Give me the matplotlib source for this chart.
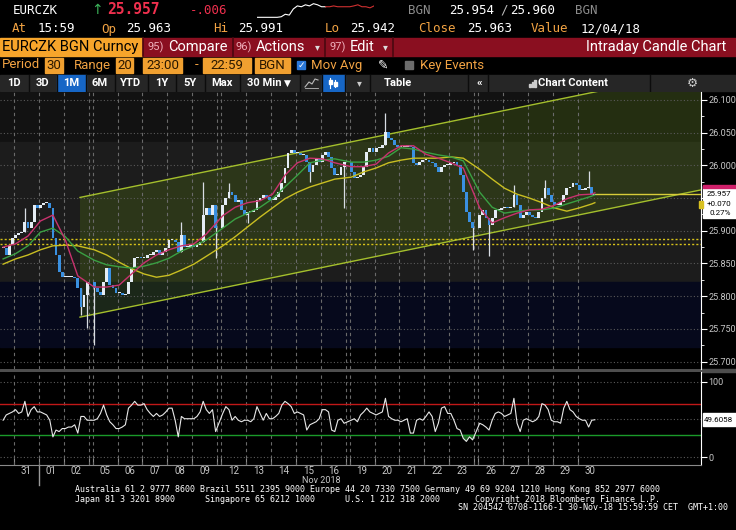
"""Bloomberg style intraday candle chart, EURCZK, 30-Oct to 30-Nov 2018."""

import matplotlib
matplotlib.use("Agg")
import matplotlib.pyplot as plt
from matplotlib.patches import Rectangle, Polygon
import numpy as np
import pandas as pd

plt.rcParams["font.family"] = ["Roboto", "DejaVu Sans"]

W, H = 736, 530

# ---------------- data ----------------
trade_dates = pd.to_datetime([
    "2018-10-31", "2018-11-01", "2018-11-02", "2018-11-05", "2018-11-06",
    "2018-11-07", "2018-11-08", "2018-11-09", "2018-11-12", "2018-11-13",
    "2018-11-14", "2018-11-15", "2018-11-16", "2018-11-19", "2018-11-20",
    "2018-11-21", "2018-11-22", "2018-11-23", "2018-11-26", "2018-11-27",
    "2018-11-28", "2018-11-29", "2018-11-30",
])
bars_per_day = 8   # 3h candles, session 23:00 - 22:59
lead_bars = 4      # last bars of 30-Oct at the left edge

closes = [
    25.874, 25.863, 25.878, 25.889,                                  # 30 Oct
    25.894, 25.897, 25.898, 25.913, 25.904, 25.913, 25.939, 25.935,  # 31
    25.939, 25.943, 25.943, 25.935, 25.889, 25.863, 25.837, 25.829,  # 01
    25.829, 25.829, 25.829, 25.828, 25.813, 25.784, 25.802, 25.822,  # 02
    25.813, 25.806, 25.802, 25.822, 25.843, 25.817, 25.813, 25.805,  # 05
    25.805, 25.802, 25.803, 25.822, 25.843, 25.858, 25.860, 25.858,  # 06
    25.858, 25.863, 25.863, 25.868, 25.871, 25.863, 25.868, 25.874,  # 07
    25.886, 25.886, 25.883, 25.868, 25.894, 25.875, 25.875, 25.878,  # 08
    25.875, 25.878, 25.883, 25.924, 25.935, 25.924, 25.939, 25.904,  # 09
    25.939, 25.950, 25.959, 25.955, 25.944, 25.947, 25.932, 25.924,  # 12
    25.929, 25.929, 25.932, 25.947, 25.950, 25.955, 25.952, 25.947,  # 13
    25.947, 25.952, 25.959, 25.973, 25.996, 26.019, 26.024, 26.019,  # 14
    26.019, 26.016, 26.016, 26.005, 25.990, 26.001, 26.011, 26.005,  # 15
    26.016, 26.020, 26.013, 25.996, 25.985, 25.985, 25.998, 26.005,  # 16
    25.990, 25.981, 25.982, 25.985, 25.998, 26.020, 26.027, 26.020,  # 19
    26.027, 26.027, 26.031, 26.051, 26.042, 26.039, 26.031, 26.028,  # 20
    26.028, 26.028, 26.031, 26.028, 26.004, 26.001, 26.005, 26.008,  # 21
    26.008, 26.005, 26.004, 25.998, 25.990, 25.998, 26.001, 26.001,  # 22
    26.004, 26.005, 26.001, 25.985, 25.959, 25.929, 25.913, 25.904,  # 23
    25.924, 25.932, 25.920, 25.909, 25.920, 25.932, 25.932, 25.935,  # 26
    25.936, 25.935, 25.936, 25.955, 25.939, 25.920, 25.924, 25.929,  # 27
    25.924, 25.921, 25.920, 25.929, 25.950, 25.965, 25.955, 25.944,  # 28
    25.939, 25.939, 25.944, 25.955, 25.965, 25.967, 25.973, 25.970,  # 29
    25.962, 25.962, 25.965, 25.967, 25.955, 25.957,                  # 30
]
# long wicks: (bar index, extreme price)
spikes = [(7, 25.935), (25, 25.771), (27, 25.751), (28, 25.725), (56, 25.913),
          (63, 25.975), (67, 25.858), (70, 25.973), (76, 25.912), (96, 25.975),
          (107, 25.935), (119, 26.080), (147, 25.871), (151, 25.862),
          (159, 25.970), (169, 25.978), (183, 25.991)]

# moving averages, read every 4th bar (plus the last one)
ma_step = 4
ma_fast = [25.875, 25.880, 25.892, 25.915, 25.924, 25.886, 25.831, 25.814,
           25.814, 25.817, 25.834, 25.851, 25.863, 25.871, 25.877, 25.880,
           25.895, 25.923, 25.936, 25.943, 25.946, 25.956, 25.985, 26.004,
           26.011, 26.010, 26.004, 25.998, 25.998, 26.002, 26.019, 26.030,
           26.030, 26.017, 26.011, 26.004, 25.996, 25.935, 25.912, 25.920,
           25.927, 25.932, 25.933, 25.939, 25.949, 25.955, 25.956, 25.958]
ma_mid = [25.857, 25.865, 25.877, 25.898, 25.904, 25.891, 25.869, 25.855,
          25.848, 25.845, 25.843, 25.846, 25.851, 25.858, 25.869, 25.877,
          25.886, 25.904, 25.918, 25.927, 25.936, 25.949, 25.967, 25.985,
          26.004, 26.008, 26.010, 26.005, 26.005, 26.008, 26.014, 26.027,
          26.025, 26.020, 26.016, 26.013, 26.007, 25.959, 25.936, 25.927,
          25.930, 25.932, 25.932, 25.935, 25.941, 25.947, 25.953, 25.955]
ma_slow = [25.849, 25.857, 25.863, 25.871, 25.877, 25.878, 25.877, 25.871,
           25.863, 25.852, 25.842, 25.834, 25.829, 25.832, 25.840, 25.849,
           25.861, 25.877, 25.891, 25.906, 25.921, 25.935, 25.949, 25.959,
           25.967, 25.973, 25.979, 25.982, 25.990, 25.996, 26.004, 26.008,
           26.011, 26.011, 26.011, 26.013, 26.011, 25.994, 25.979, 25.965,
           25.956, 25.950, 25.943, 25.935, 25.930, 25.935, 25.941, 25.943]

rsi = [
    49, 56, 58, 60,
    63, 58, 60, 74, 54, 63, 67, 60,
    60, 58, 56, 49, 27, 36, 34, 38,
    38, 40, 40, 43, 32, 54, 54, 49,
    49, 51, 58, 69, 56, 47, 43, 38,
    38, 40, 43, 65, 69, 74, 69, 69,
    71, 63, 58, 54, 58, 54, 56, 60,
    65, 65, 49, 27, 54, 51, 51, 51,
    51, 54, 60, 74, 63, 58, 63, 34,
    58, 67, 63, 49, 54, 49, 47, 49,
    49, 47, 51, 67, 58, 49, 58, 51,
    51, 54, 58, 69, 74, 71, 67, 58,
    60, 58, 56, 36, 43, 45, 47, 51,
    63, 63, 60, 36, 34, 49, 51, 45,
    49, 51, 47, 56, 60, 65, 60, 58,
    56, 58, 60, 78, 54, 51, 49, 49,
    47, 49, 51, 32, 32, 49, 51, 49,
    54, 60, 54, 34, 45, 65, 67, 58,
    58, 49, 38, 36, 25, 21, 27, 23,
    45, 43, 40, 36, 49, 58, 60, 58,
    54, 56, 58, 78, 45, 34, 49, 51,
    49, 47, 49, 54, 71, 69, 63, 49,
    47, 47, 45, 65, 74, 63, 60, 54,
    51, 49, 49, 40, 49, 49.6058,
]
rsi_hi, rsi_lo = 70, 30

last_px, last_chg, last_pct = 25.957, "+0.070", "0.27%"
ref_levels = [25.8875, 25.8798]
# trend channel: start (day units), lower / upper price there, slope per day
chan_x0, chan_lo0, chan_hi0, chan_slope = 2.65, 25.768, 25.951, 0.0078

spark = [25.942, 25.942, 25.942, 25.942, 25.942, 25.942, 25.944, 25.953,
         25.950, 25.972, 25.983, 25.980, 25.987, 25.983, 25.991, 25.987,
         25.980, 25.980, 25.980, 25.983, 25.980, 25.980, 25.980, 25.980,
         25.983, 25.987, 25.980, 25.980, 25.976, 25.983]
spark_split = 17

# ---------------- x positions ----------------
n = len(closes)
gap = 0.16
wk = np.r_[0, np.diff(trade_dates.values).astype("timedelta64[D]").astype(int) > 1]
day_pos = np.arange(len(trade_dates)) + gap * np.cumsum(wk)
bar_x = np.empty(n)
for j in range(n):
    if j < lead_bars:
        bar_x[j] = -1 + (bars_per_day - lead_bars + j + 0.5) / bars_per_day
    else:
        d, k = divmod(j - lead_bars, bars_per_day)
        bar_x[j] = day_pos[d] + (k + 0.5) / bars_per_day
ma_idx = list(range(0, n, ma_step))
if ma_idx[-1] != n - 1:
    ma_idx.append(n - 1)
ma_x = bar_x[ma_idx]
XL = (-0.562, 27.59)
boundaries = list(day_pos) + [day_pos[i] + 1 for i in range(len(day_pos) - 1) if wk[i + 1]]

# ---------------- figure ----------------
fig = plt.figure(figsize=(W / 100, H / 100), dpi=100, facecolor="black")
bg = fig.add_axes([0, 0, 1, 1], zorder=0)
top = fig.add_axes([0, 0, 1, 1], zorder=10)
for a in (bg, top):
    a.set_xlim(0, W)
    a.set_ylim(H, 0)
    a.axis("off")
top.patch.set_alpha(0)


def px_axes(x0, y0, x1, y1, z=1):
    return fig.add_axes([x0 / W, 1 - y1 / H, (x1 - x0) / W, (y1 - y0) / H], zorder=z)


def t(x, y, s, c="white", size=9, ha="left", on=None, **kw):
    (on or bg).text(x, y, s, color=c, fontsize=size, ha=ha, va="center", **kw)


ORANGE = "#f2a343"
MONO = "DejaVu Sans Mono"

# header row 1
t(13, 10, "EURCZK", size=9, family=MONO)
t(91, 10, "↑", c="#3cb35a", size=10, family="DejaVu Sans")
t(107, 10, "25.957", c="#f0304e", size=10.5, family=MONO, weight="bold")
t(190, 10, "-.006", c="#f0304e", size=9, family=MONO)
t(408, 10, "BGN", c="#8c8c8c", size=9, family=MONO)
t(449, 10, "25.954", size=9, family=MONO)
t(500, 10, "/", c="#bbbbbb", size=9, family=MONO)
t(510, 10, "25.960", size=9, family=MONO)
t(575, 10, "BGN", c="#8c8c8c", size=9, family=MONO)
sp = px_axes(257, 3, 374, 18, z=2)
sp.axis("off")
sp.plot(range(spark_split + 1), spark[:spark_split + 1], color="white", lw=0.8)
sp.plot(range(spark_split, len(spark)), spark[spark_split:], color="#d03030", lw=0.8)
sp.set_xlim(0, len(spark) - 1)

# header row 2
for x, s, c in [(12, "At", ORANGE), (38, "15:59", "white"), (101, "Op", ORANGE),
                (126, "25.963", "white"), (213, "Hi", ORANGE), (238, "25.991", "white"),
                (325, "Lo", ORANGE), (350, "25.942", "white"), (418, "Close", ORANGE),
                (467, "25.963", "white"), (531, "Value", ORANGE), (581, "12/04/18", "white")]:
    t(x, 29, s, c=c, size=9, family=MONO)

# header row 3
bg.add_patch(Rectangle((0, 38), 143, 18, color="#f7a52b"))
bg.add_patch(Rectangle((143, 38), W - 143, 18, color="#8a0f20"))
for x in (143, 232.5, 324.5, 393):
    bg.plot([x, x], [38, 56], color="#4a0810", lw=1.2)
t(2, 47, "EURCZK BGN Curncy", c="black", size=10.5)
for x0, num, lab in [(148, "95)", "Compare"), (236, "96)", "Actions"), (330, "97)", "Edit")]:
    t(x0, 47, num, c="#f0b0bc", size=8)
    t(x0 + 20, 47, lab, size=10.5)
t(315, 47, "▾", c="#dddddd", size=7, family="DejaVu Sans")
t(383, 47, "▾", c="#dddddd", size=7, family="DejaVu Sans")
t(726, 47, "Intraday Candle Chart", size=10.5, ha="right")

# header row 4
t(2, 65, "Period", c=ORANGE, size=9.5)
t(74, 65, "Range", c=ORANGE, size=9.5)
for x0, x1, s in [(45, 63, "30"), (116, 133, "20"), (143, 182, "23:00"),
                  (203, 251, "22:59"), (255, 290, "BGN")]:
    bg.add_patch(Rectangle((x0, 58), x1 - x0, 15, color="#f0a030"))
    t((x0 + x1) / 2, 65.5, s, c="#2a1800", size=9.5, ha="center")
t(197, 65, "-", c=ORANGE, size=9.5, ha="center")
bg.add_patch(Rectangle((297, 61), 8, 8, color="#2a78d8"))
t(301, 65, "✓", size=6.5, ha="center", family="DejaVu Sans", weight="bold")
t(311, 65, "Mov Avg", c=ORANGE, size=9.5)
t(383, 65, "✎", size=9, ha="center", family="DejaVu Sans")
bg.add_patch(Rectangle((405, 61), 8, 8, color="#6c6c6c"))
t(420, 65, "Key Events", c=ORANGE, size=9.5)

# header row 5 (toolbar)
bg.add_patch(Rectangle((0, 75), W, 16, color="#262626"))
bg.add_patch(Rectangle((57, 75), 29, 16, color="#1666c6"))
bg.add_patch(Rectangle((322, 75), 23, 16, color="#1666c6"))
for x in (29, 57, 86, 115, 148, 176, 205, 240, 300, 322, 345, 370, 468, 488, 650):
    bg.plot([x, x], [75, 91], color="#0c0c0c", lw=1)
for x, s in [(14, "1D"), (43, "3D"), (71, "1M"), (100, "6M"), (131, "YTD"), (162, "1Y"),
             (190, "5Y"), (222, "Max"), (398, "Table"), (479, "«")]:
    t(x, 83, s, size=8, ha="center", weight="bold")
t(247, 83, "30 Min", size=8, weight="bold")
t(284, 83, "▼", size=6.5, family="DejaVu Sans")
t(359, 83, "▾", c="#cccccc", size=7, ha="center", family="DejaVu Sans")
bg.plot([305, 309, 312, 315, 318], [87, 82, 84, 79, 80], color="#bbbbbb", lw=0.8)
bg.plot([305, 318], [88, 88], color="#bbbbbb", lw=0.6)
for x, y0, y1 in [(330, 78, 88), (335, 80, 87)]:
    bg.plot([x, x], [y0, y1], color="white", lw=0.8)
    bg.add_patch(Rectangle((x - 1.5, y0 + 2), 3, 4, color="white"))
for i, hgt in enumerate((3, 5, 7)):
    bg.add_patch(Rectangle((529 + i * 2.5, 87 - hgt), 1.5, hgt, color="#cccccc"))
t(538, 83, "Chart Content", size=8, weight="bold")
t(692, 83, "⚙", c="#cccccc", size=9, ha="center", family="DejaVu Sans")

# ---------------- price panel ----------------
ax = px_axes(0, 92, 701, 369)
ax.set_facecolor("black")
ax.set_xlim(*XL)
ax.set_ylim(25.6887, 26.1122)
ax.axhspan(26.036, 26.2, color="#121212", zorder=0)
ax.axhspan(25.822, 26.036, color="#1c1c1c", zorder=0)
ax.axhspan(25.722, 25.822, color="#06091c", zorder=0)

cx = np.array([chan_x0, XL[1] + 1])
lo = chan_lo0 + chan_slope * (cx - chan_x0)
hi = chan_hi0 + chan_slope * (cx - chan_x0)
ax.add_patch(Polygon([(cx[0], lo[0]), (cx[1], lo[1]), (cx[1], hi[1]), (cx[0], hi[0])],
                     closed=True, facecolor="#6a9a10", alpha=0.21, edgecolor="none", zorder=1))
ax.plot(cx, lo, color="#a4bf2c", lw=1, zorder=3)
ax.plot(cx, hi, color="#a4bf2c", lw=1, zorder=3)

yt = np.arange(25.70, 26.101, 0.05)
for v in yt:
    ax.axhline(v, color="#5a5a5a", lw=0.8, ls=(0, (1, 2)), zorder=2)
for b in boundaries:
    ax.axvline(b, color="#6a6a6a", lw=0.8, ls=(0, (3, 3)), zorder=2)
for v in ref_levels:
    ax.axhline(v, color="#d7c21a", lw=1, ls=(0, (1.5, 1.5)), zorder=3)
ax.hlines(last_px, bar_x[-1], XL[1], color="#d8cc3a", lw=1, zorder=3)

c_arr = np.array(closes)
o_arr = np.r_[c_arr[0], c_arr[:-1]]
body_lo = np.minimum(o_arr, c_arr)
body_h = np.maximum(np.abs(c_arr - o_arr), 0.0013)
up = c_arr >= o_arr
for j, v in spikes:
    ax.vlines(bar_x[j], min(v, body_lo[j]), max(v, body_lo[j] + body_h[j]),
              color="#d8dde4", lw=0.9, zorder=4)
ax.bar(bar_x, body_h, bottom=body_lo, width=0.9 / bars_per_day,
       color=np.where(up, "#e4ecf4", "#3a90e0"), linewidth=0, zorder=5)

ax.plot(ma_x, ma_slow, color="#c9be22", lw=1, zorder=6)
ax.plot(ma_x, ma_mid, color="#3aa043", lw=1, zorder=6)
ax.plot(ma_x, ma_fast, color="#c8326e", lw=1, zorder=6)

for s in ("top", "left", "bottom"):
    ax.spines[s].set_visible(False)
ax.spines["right"].set_color("white")
ax.yaxis.tick_right()
ax.set_yticks(yt)
ax.set_yticks(np.arange(25.725, 26.1, 0.05), minor=True)
# the 25.950 label sits under the last-price flag
ax.set_yticklabels(["" if abs(v - 25.95) < 1e-6 else f"{v:.3f}" for v in yt])
ax.tick_params(axis="y", which="major", colors="white", labelcolor="#c8c8c8",
               length=4, width=0.8, labelsize=6.5, pad=1.5)
ax.tick_params(axis="y", which="minor", colors="white", length=2, width=0.6)
ax.set_xticks([])

# last price flag
top.add_patch(Rectangle((703, 186), 33, 32, color="white"))
top.add_patch(Rectangle((703, 185), 33, 3, color="#d0206a"))
for y, s in [(194, f"{last_px:.3f}"), (203.5, last_chg), (213, last_pct)]:
    top.text(731, y, s, color="black", fontsize=5.8, ha="right", va="center")
top.add_patch(Rectangle((699, 200.5), 4, 7, color="#d8c020"))

# panel separator
bg.add_patch(Rectangle((0, 369), W, 3, color="#4e4e4e"))

# ---------------- RSI panel ----------------
ar = px_axes(0, 372, 701, 465)
ar.set_facecolor("black")
ar.set_xlim(*XL)
ar.set_ylim(-10.2, 112.8)
for v in (100, 50, 0):
    ar.axhline(v, color="#5a5a5a", lw=0.8, ls=(0, (1, 2)))
for b in boundaries:
    ar.axvline(b, color="#6a6a6a", lw=0.8, ls=(0, (3, 3)))
ar.axhline(rsi_hi, color="#c01818", lw=1)
ar.axhline(rsi_lo, color="#1a9a2a", lw=1)
r_arr = np.array(rsi, dtype=float)
ar.fill_between(bar_x, r_arr, rsi_lo, where=r_arr < rsi_lo, interpolate=True,
                color="#2a7a30", alpha=0.8, lw=0)
ar.plot(bar_x, r_arr, color="#e8e8e8", lw=0.8)
for s in ("top", "left"):
    ar.spines[s].set_visible(False)
ar.spines["right"].set_color("white")
ar.spines["bottom"].set_color("#8a8a8a")
ar.yaxis.tick_right()
ar.set_yticks([0, 100])
ar.set_yticklabels(["0", "100"])
ar.tick_params(axis="y", colors="white", labelcolor="#c8c8c8", length=4, width=0.8,
               labelsize=6.5, pad=1.5)
ar.set_xticks(boundaries)
ar.set_xticklabels([])
ar.tick_params(axis="x", direction="in", length=5, color="#8a8a8a", width=0.8)

top.add_patch(Rectangle((703, 413), 33, 13, color="white"))
top.text(733, 419.5, f"{rsi[-1]:.4f}", color="black", fontsize=5.8, ha="right",
         va="center")

xt = ar.get_xaxis_transform()
for d, p in zip(trade_dates, day_pos):
    ar.text(p + 0.5, -0.065, d.strftime("%d"), transform=xt, color="#c8c8c8",
            fontsize=7, ha="center", va="center", clip_on=False)
ar.plot([day_pos[1], day_pos[1]], [0, -0.22], transform=xt, color="#9a9a9a",
        lw=1, clip_on=False)
ar.text((day_pos[1] + day_pos[-1] + 1) / 2, -0.172, "Nov 2018", transform=xt,
        color="#c8c8c8", fontsize=6.5, ha="center", va="center", clip_on=False)

# ---------------- footer ----------------
foot = [
    (75, 490, "Australia 61 2 9777 8600 Brazil 5511 2395 9000 Europe 44 20 7330 7500 "
              "Germany 49 69 9204 1210 Hong Kong 852 2977 6000"),
    (75, 499, "Japan 81 3 3201 8900      Singapore 65 6212 1000      U.S. 1 212 318 2000"
              "       Copyright 2018 Bloomberg Finance L.P."),
    (458, 508, "SN 204542 G708-1166-1 30-Nov-18 15:59:59 CET  GMT+1:00"),
]
for x, y, s in foot:
    t(x, y, s, size=6, family=MONO)

fig.savefig("out.png", dpi=100, facecolor="black")
